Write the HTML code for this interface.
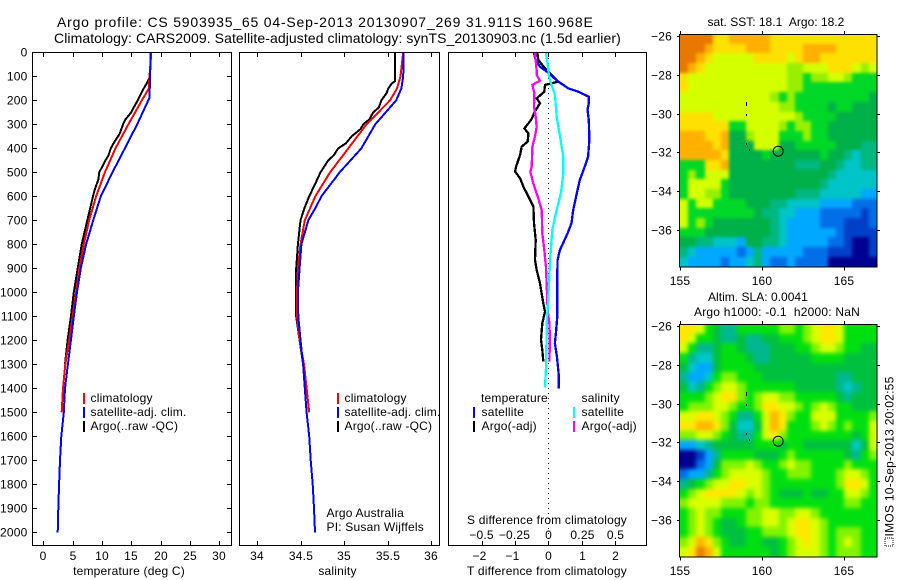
<!DOCTYPE html>
<html>
<head>
<meta charset="utf-8">
<title>Argo profile</title>
<style>
html,body{margin:0;padding:0;background:#fff;width:900px;height:580px;overflow:hidden}
svg{display:block}
text{font-family:"Liberation Sans",sans-serif;font-size:12px;fill:#000;letter-spacing:.2px}
</style>
</head>
<body>
<svg id="chart" xmlns="http://www.w3.org/2000/svg" width="900" height="580" viewBox="0 0 900 580">
  <defs>
    <clipPath id="clip-sst"><rect x="680" y="34" width="197" height="233"/></clipPath>
    <clipPath id="clip-sla"><rect x="680" y="324" width="197" height="233"/></clipPath>
  </defs>
  <text x="57" y="27" textLength="536" lengthAdjust="spacing" style="font-size:14px">Argo profile: CS 5903935_65 04-Sep-2013 20130907_269 31.911S 160.968E</text>
  <text x="54" y="43" textLength="567" lengthAdjust="spacing" style="font-size:14px">Climatology: CARS2009. Satellite-adjusted climatology: synTS_20130903.nc (1.5d earlier)</text>

  <g id="marks"></g>
  <g id="frames">
    <rect x="32.5" y="52.5" width="199" height="493" fill="none" stroke="#000"/>
    <rect x="239.5" y="52.5" width="200" height="493" fill="none" stroke="#000"/>
    <rect x="448.5" y="52.5" width="198" height="493" fill="none" stroke="#000"/>
  </g>
  <g id="ticks"></g>

  <text x="129" y="575" text-anchor="middle">temperature (deg C)</text>
  <text x="337.5" y="575" text-anchor="middle">salinity</text>
  <text x="547" y="575" text-anchor="middle" textLength="160" lengthAdjust="spacing">T difference from climatology</text>
  <text x="547" y="524" text-anchor="middle" textLength="160" lengthAdjust="spacing">S difference from climatology</text>

  <g>
    <rect x="83" y="393" width="2" height="11" fill="#f00"/>
    <rect x="83" y="407" width="2" height="11" fill="#00f"/>
    <rect x="83" y="421" width="2" height="11" fill="#000"/>
    <text x="90.5" y="402">climatology</text>
    <text x="90.5" y="416">satellite-adj. clim.</text>
    <text x="90.5" y="430">Argo(..raw -QC)</text>
  </g>
  <g>
    <rect x="337" y="393" width="2" height="11" fill="#f00"/>
    <rect x="337" y="407" width="2" height="11" fill="#00f"/>
    <rect x="337" y="421" width="2" height="11" fill="#000"/>
    <text x="344.5" y="402">climatology</text>
    <text x="344.5" y="416">satellite-adj. clim.</text>
    <text x="344.5" y="430">Argo(..raw -QC)</text>
    <text x="326.5" y="517">Argo Australia</text>
    <text x="326.5" y="531">PI: Susan Wijffels</text>
  </g>
  <g>
    <text x="481" y="402">temperature</text>
    <text x="581.5" y="402">salinity</text>
    <rect x="473" y="407" width="2" height="11" fill="#00f"/>
    <rect x="473" y="421" width="2" height="11" fill="#000"/>
    <rect x="573" y="407" width="2" height="11" fill="#0ff"/>
    <rect x="573" y="421" width="2" height="11" fill="#f0f"/>
    <text x="481.5" y="416">satellite</text>
    <text x="481.5" y="430">Argo(-adj)</text>
    <text x="581.5" y="416">satellite</text>
    <text x="581.5" y="430">Argo(-adj)</text>
  </g>

  <text x="776" y="26" text-anchor="middle" textLength="137" lengthAdjust="spacing">sat. SST: 18.1&#160;&#160;Argo: 18.2</text>
  <text x="758" y="301" text-anchor="middle" textLength="100" lengthAdjust="spacing">Altim. SLA: 0.0041</text>
  <text x="777" y="316" text-anchor="middle" textLength="166" lengthAdjust="spacing">Argo h1000: -0.1&#160;&#160;h2000: NaN</text>

  <g>
    <rect x="885" y="538" width="8" height="8" fill="none" stroke="#000" stroke-dasharray="1 1"/>
    <text transform="translate(893.5,536.5) rotate(-90)" textLength="160" lengthAdjust="spacing">IMOS 10-Sep-2013 20:02:55</text>
  </g>
</svg>

<script>
// ---------- profile data ----------
const climDepths = [0,100,150,200,300,400,500,600,700,800,900,1000,1100,1200,1300,1400,1500];
const tempClim = [18.4,18.1,18.0,16.8,14.5,12.3,10.5,9.0,7.8,6.9,6.14,5.57,5.0,4.4,3.75,3.36,3.13];
const satDepths = [0,100,190,200,300,400,500,600,700,800,900,1000,1100,1200,1300,1400,1500,1600,1700,1800,1900,2000];
const tempSat = [18.3,18.2,18.1,17.9,16.0,13.9,11.8,9.8,8.5,7.3,6.4,5.75,5.2,4.7,4.2,3.7,3.5,3.07,2.85,2.7,2.56,2.45];
const argoDepths = [0,100,130,160,200,230,250,280,300,340,370,400,430,450,500,530,570,600,650,700,800,900,1000,1100,1200,1300];
const tempArgo = [18.3,18.2,17.6,16.9,16.1,15.4,15.0,14.0,13.6,13.0,12.2,11.5,11.1,10.6,9.55,9.4,8.8,8.47,8.0,7.5,6.54,5.86,5.2,4.7,4.15,3.7];

const salClim = [35.68,35.65,35.61,35.53,35.26,35.05,34.84,34.67,34.55,34.5,34.47,34.46,34.46,34.49,34.54,34.57,34.6];
const salSatDepths = [0,100,150,200,300,400,500,600,650,700,800,900,1000,1100,1200,1300,1400,1500,1600,1700,1800,1900,2000];
const salSat = [35.686,35.68,35.66,35.6,35.36,35.2,34.95,34.74,34.67,34.59,34.51,34.49,34.47,34.475,34.5,34.53,34.55,34.57,34.6,34.617,34.64,34.655,34.667];
const salArgoDepths = [0,120,130,150,170,200,230,250,280,300,320,350,380,400,430,450,500,550,600,650,700,800,900,1000,1100,1200,1300];
const salArgo = [35.586,35.586,35.55,35.51,35.49,35.43,35.4,35.337,35.29,35.222,35.19,35.088,35.02,34.935,34.88,34.82,34.73,34.667,34.6,34.545,34.5,34.47,34.45,34.45,34.45,34.49,34.53];

const diffTSatDepths = [0,32,60,80,122,150,164,185,212,240,282,324,379,435,476,532,574,657,712,754,824,865,921,1032,1101,1171,1212,1268,1337,1400];
const diffTSat = [-.44,-.38,-.25,-.05,.30,.60,.90,1.22,1.22,1.18,1.22,1.23,1.23,1.2,1.1,.95,.88,.75,.70,.58,.35,.28,.27,.27,.27,.23,.20,.26,.31,.32];
const diffTArgoDepths = [0,32,67,122,126,136,164,192,212,247,282,317,338,372,393,428,476,497,525,560,601,643,712,782,865,907,963,1046,1080,1129,1198,1240,1288];
const diffTArgo = [-.33,-.30,-.10,.30,.2,-.1,-.12,-.35,-.25,-.40,-.52,-.72,-.60,-.62,-.80,-.85,-.97,-1.0,-.85,-.75,-.6,-.45,-.43,-.38,-.40,-.35,-.25,-.15,-.10,-.18,-.22,-.18,-.15];
const diffSArgoDepths = [0,74,94,118,136,171,226,268,310,351,393,476,497,546,601,657,754,824,893,969,1074,1129,1198,1288];
const diffSArgo = [-.10,-.088,-.088,-.063,-.12,-.105,-.108,-.095,-.088,-.10,-.12,-.125,-.135,-.113,-.08,-.05,-.045,-.03,-.018,-.012,-.005,.008,.012,.008];
const diffSSatDepths = [0,46,101,129,178,268,351,435,504,588,657,740,851,962,1074,1101,1240,1323,1396];
const diffSSat = [-.018,-.005,.005,.02,.05,.063,.088,.113,.113,.095,.063,.03,.015,.005,-.005,-.01,-.015,-.018,-.025];

// ---------- tick labels ----------
const depthTicks = [0,100,200,300,400,500,600,700,800,900,1000,1100,1200,1300,1400,1500,1600,1700,1800,1900,2000];
const tempTicks = [0,5,10,15,20,25,30];
const salTicks = [34,34.5,35,35.5,36];
const diffTTicks = [-2,-1,0,1,2];
const diffSTicks = [-0.5,-0.25,0,0.25,0.5];
const lonTicks = [155,160,165];
const latTicks = [-26,-28,-30,-32,-34,-36];

// ---------- map data: colour-level index per cell, north to south ----------
const sstGrid = [
[12,12,12,12,10,10,11,11,11,11,11,10,10,10,10,10,10,10,10,10,10,10,10,10],
[12,12,12,11,10,10,10,10,11,11,11,10,10,10,10,11,11,11,11,10,10,10,10,10],
[12,12,11,10,9,9,9,9,9,10,10,10,10,9,10,11,11,10,10,10,10,10,10,10],
[12,11,10,9,9,9,9,9,9,9,9,9,9,8,8,9,9,9,10,10,10,9,8,9],
[10,9,9,9,9,9,9,9,9,9,9,9,9,8,8,7,8,8,9,9,8,7,7,7],
[10,9,9,9,9,9,9,9,9,9,9,9,9,8,8,7,7,7,7,7,7,7,7,7],
[9,9,9,9,9,9,9,9,9,9,9,8,7,8,7,7,7,7,7,7,7,7,7,6],
[9,9,9,9,9,9,9,9,9,9,9,9,8,8,7,7,7,7,6,7,7,6,6,6],
[10,10,10,10,9,9,9,9,9,9,9,9,9,9,8,7,7,7,7,6,6,6,6,6],
[10,10,10,10,10,10,7,7,9,9,9,9,8,7,8,8,7,7,6,6,6,6,6,6],
[11,11,11,10,10,11,6,6,8,9,9,9,7,7,7,8,7,7,6,6,6,6,6,6],
[11,11,11,11,10,11,6,6,6,9,9,9,6,6,7,7,7,7,7,6,6,6,5,5],
[11,11,11,11,11,10,6,6,6,6,7,6,6,6,6,6,6,7,6,6,5,4,5,5],
[7,7,7,10,10,11,6,6,6,6,6,6,6,6,5,5,5,6,6,5,4,4,5,5],
[7,8,7,9,9,9,6,6,6,6,6,6,6,6,6,6,6,6,5,4,4,4,4,4],
[7,9,9,9,9,7,6,6,6,6,6,6,6,6,6,6,6,5,4,4,4,4,4,4],
[7,9,9,8,8,7,6,6,6,6,6,6,6,6,5,5,5,4,4,4,4,4,3,3],
[9,7,9,9,7,7,7,7,6,6,6,5,5,4,4,4,4,3,3,3,3,2,2,2],
[9,7,7,7,7,7,7,7,7,6,5,5,4,4,3,3,3,2,2,2,2,2,1,2],
[9,7,8,7,6,6,6,6,6,6,6,5,4,3,3,3,3,2,2,2,1,1,1,2],
[7,7,7,6,6,6,6,6,6,6,6,5,4,3,3,3,3,3,3,2,1,1,1,1],
[6,6,5,5,4,4,4,3,6,6,5,5,4,3,3,3,3,3,2,2,1,0,0,1],
[5,4,3,3,3,3,3,2,3,5,3,3,3,3,3,2,2,2,1,1,1,0,0,1],
[4,3,3,3,3,2,3,3,4,5,3,2,2,3,2,2,2,2,0,0,0,0,0,0]
];
const slaGrid = [
[10,10,9,7,6,5,5,7,7,7,7,7,8,8,7,8,9,10,10,9,7,7,7,7],
[10,9,7,7,6,5,5,6,5,5,6,6,7,7,7,8,9,10,10,9,7,7,7,7],
[9,7,5,5,6,7,7,6,5,5,5,6,6,6,7,7,8,9,9,8,7,7,6,6],
[7,5,4,4,6,7,7,7,6,5,5,6,6,6,6,6,7,7,7,7,6,6,6,6],
[6,4,3,3,6,7,7,7,7,6,6,6,6,6,6,6,6,6,6,6,6,6,6,6],
[5,3,3,4,7,8,8,7,7,7,6,6,6,6,6,6,6,6,6,5,5,6,6,6],
[6,4,5,7,8,9,9,8,7,7,7,7,7,7,6,6,6,6,6,5,4,5,6,6],
[7,7,7,8,9,10,10,8,7,8,9,9,8,8,7,7,7,7,7,6,5,6,6,6],
[7,8,8,8,9,9,8,7,7,8,10,10,9,9,8,7,8,9,8,7,7,6,6,6],
[9,9,10,10,9,8,7,5,5,7,9,11,10,8,7,7,9,9,9,7,7,7,7,8],
[10,10,11,11,10,8,6,4,4,6,9,11,10,7,7,7,8,9,8,7,8,7,7,9],
[8,8,9,9,8,7,6,5,5,7,9,10,8,7,7,7,7,7,7,7,7,6,7,9],
[3,3,4,5,6,6,6,6,6,7,7,7,6,7,7,6,6,6,6,6,6,4,6,9],
[0,0,1,3,5,7,7,7,7,6,6,6,7,8,7,7,7,7,7,7,6,5,7,8],
[0,0,2,3,6,8,8,8,9,8,7,7,8,9,8,8,7,7,7,7,8,7,7,7],
[2,3,3,5,7,8,9,9,9,9,8,7,7,8,8,8,7,7,7,8,9,9,8,7],
[5,6,7,8,9,9,10,10,9,9,8,7,7,7,7,7,7,7,7,8,10,10,9,7],
[7,8,9,10,10,10,10,9,8,9,8,7,6,6,6,7,6,6,7,7,9,9,8,7],
[8,9,9,9,9,8,8,8,7,8,8,7,7,7,7,7,7,7,7,7,8,8,7,7],
[7,8,9,8,8,7,7,7,8,8,9,9,8,8,9,9,8,7,7,7,7,7,7,7],
[7,8,9,8,7,6,6,7,8,8,9,9,8,9,10,10,9,8,7,7,7,7,7,7],
[7,8,9,8,7,6,6,6,7,7,8,8,8,9,10,10,9,8,7,8,8,8,7,7],
[8,9,11,10,8,7,6,6,7,7,6,6,7,8,9,10,9,8,7,8,9,8,7,7],
[9,10,12,11,9,7,7,7,7,7,7,6,7,8,9,9,9,8,7,8,8,8,7,7]
];
const trackLons = [159,159.03,159,159,159.2];
const trackLats = [-29.4,-29.5,-30,-31.5,-31.8];
const profileLon = 160.968;
const profileLat = -31.94;

// ---------- styling (not data) ----------
const sstColors = ['#000090','#0040c8','#0070e8','#00a8ff','#00c4c8','#00b880','#00b048','#00d828','#98f000','#d4ff00','#ffe000','#ffb000','#e87800'];
const slaColors = ['#000090','#0040c8','#0070e8','#00a8ff','#00c8c8','#00b890','#00c040','#00e010','#80f400','#d8ff00','#ffe800','#ffb800','#e88000'];
const NS = 'http://www.w3.org/2000/svg';
const marks = document.getElementById('marks');
const ticks = document.getElementById('ticks');

// ---------- axis functions ----------
const depthY = d => 52.3 + 0.24 * d;
const tempX = t => 43.3 + 5.867 * t;
const salX = s => 257 + 87 * (s - 34);
const diffTX = t => 548.3 + 33.2 * t;
const diffSX = s => 548.3 + 132.8 * s;
const lonX = l => 680.3 + 16.4 * (l - 155);
const latY = (lat, top) => top + (-26 - lat) * 19.4;

function add(parent, tag, attrs, text) {
  const el = document.createElementNS(NS, tag);
  for (const k in attrs) el.setAttribute(k, attrs[k]);
  if (text !== undefined) el.textContent = text;
  parent.appendChild(el);
  return el;
}
function fmt(v) { return String(v).replace('-', '\u2212'); }

function drawProfile(depths, values, xFn, color, name, width) {
  const pts = values.map((v, i) => xFn(v).toFixed(1) + ',' + depthY(depths[i]).toFixed(1)).join(' ');
  const el = add(marks, 'polyline', {points: pts, fill: 'none', stroke: color, 'stroke-width': width, 'shape-rendering': 'crispEdges'});
  
  
}
function tickLine(x1, y1, x2, y2, name) {
  const el = add(ticks, 'line', {x1: x1, y1: y1, x2: x2, y2: y2, stroke: '#000', 'stroke-width': 1, 'shape-rendering': 'crispEdges'});
  
  
}
function tickText(x, y, anchor, str, name) {
  const el = add(ticks, 'text', {x: x, y: y, 'text-anchor': anchor}, str);
  
  
}

// ---------- maps ----------
function drawMap(grid, colors, top, name, clipId, blurPx) {
  const g = add(marks, 'g', {});
  
  
  const clip = add(g, 'g', {'clip-path': 'url(#' + clipId + ')'});
  const soft = add(clip, 'g', {style: 'filter:blur(' + blurPx + 'px)'});
  const left = 680, w = 197, h = 232.5, bleed = 12;
  const rows = grid.length, cols = grid[0].length;
  grid.forEach((row, r) => row.forEach((lev, c) => {
    const x0 = Math.round(left + c * w / cols) - (c === 0 ? bleed : 0);
    const x1 = Math.round(left + (c + 1) * w / cols) + (c === cols - 1 ? bleed : 0);
    const y0 = Math.round(top + r * h / rows) - (r === 0 ? bleed : 0);
    const y1 = Math.round(top + (r + 1) * h / rows) + (r === rows - 1 ? bleed : 0);
    const cell = add(soft, 'rect', {x: x0, y: y0, width: x1 - x0, height: y1 - y0, fill: colors[lev], 'shape-rendering': 'crispEdges'});
    
    
  }));
  const tickTop = top + 2;
  trackLons.forEach((lon, i) => {
    const p = add(g, 'rect', {x: Math.round(lonX(lon)), y: Math.round(latY(trackLats[i], tickTop)), width: 1, height: 2, fill: '#000'});
    
    
  });
  const circle = add(g, 'circle', {cx: lonX(profileLon), cy: latY(profileLat, tickTop), r: 5, fill: 'none', stroke: '#000', 'stroke-width': 1});
  
  
  const frame = add(g, 'rect', {x: 679.5, y: top + .5, width: 197.5, height: h, fill: 'none', stroke: '#000', 'shape-rendering': 'crispEdges'});
  
  

  const bottom = Math.round(top + h) + .5;
  lonTicks.forEach(l => {
    const x = Math.round(lonX(l)) + .5;
    tickLine(x, top, x, top - 3, 'map-top-tick');
    tickLine(x, bottom, x, bottom + 3, 'map-bottom-tick');
    tickText(x - .5, bottom + 17.5, 'middle', String(l), 'map-longitude-label');
  });
  latTicks.forEach(lat => {
    const y = Math.round(latY(lat, tickTop)) + .5;
    tickLine(680, y, 677, y, 'map-left-tick');
    tickLine(877, y, 880, y, 'map-right-tick');
    tickText(672, y + 4, 'end', fmt(lat), 'map-latitude-label');
  });
}
drawMap(sstGrid, sstColors, 34, 'sst-map', 'clip-sst', 1.6);
drawMap(slaGrid, slaColors, 324, 'sla-map', 'clip-sla', 2);

// ---------- profile lines ----------
drawProfile(argoDepths, tempArgo, tempX, '#000', 'temperature-argo-line', 2);
drawProfile(climDepths, tempClim, tempX, '#f00', 'temperature-climatology-line', 2);
drawProfile(satDepths, tempSat, tempX, '#00f', 'temperature-satellite-line', 2);

drawProfile(salArgoDepths, salArgo, salX, '#000', 'salinity-argo-line', 2);
drawProfile(climDepths, salClim, salX, '#f00', 'salinity-climatology-line', 2);
drawProfile(salSatDepths, salSat, salX, '#00f', 'salinity-satellite-line', 2);

const zeroLine = add(marks, 'line', {x1: 548.5, y1: 53, x2: 548.5, y2: 545, stroke: '#000', 'stroke-width': 1, 'stroke-dasharray': '1 4'});



drawProfile(diffTArgoDepths, diffTArgo, diffTX, '#000', 'difference-t-argo-line', 2.3);
drawProfile(diffTSatDepths, diffTSat, diffTX, '#00f', 'difference-t-satellite-line', 2.3);
drawProfile(diffSArgoDepths, diffSArgo, diffSX, '#f0f', 'difference-s-argo-line', 2.3);
drawProfile(diffSSatDepths, diffSSat, diffSX, '#0ff', 'difference-s-satellite-line', 2.3);

// ---------- profile axes ----------
depthTicks.forEach(d => {
  const y = Math.round(depthY(d)) + .5;
  tickLine(33, y, 37, y, 'depth-tick-left');
  tickLine(231, y, 227, y, 'depth-tick-right');
  tickText(27.5, y + 4, 'end', String(d), 'depth-tick-label');
});
tempTicks.forEach(t => {
  const x = Math.round(tempX(t)) + .5;
  tickLine(x, 53, x, 57, 'temperature-tick-top');
  tickLine(x, 545, x, 541, 'temperature-tick-bottom');
  tickText(x - .5, 560, 'middle', String(t), 'temperature-tick-label');
});
salTicks.forEach(s => {
  const x = Math.round(salX(s)) + .5;
  tickLine(x, 53, x, 57, 'salinity-tick-top');
  tickLine(x, 545, x, 541, 'salinity-tick-bottom');
  tickText(x - .5, 560, 'middle', String(s), 'salinity-tick-label');
});
diffTTicks.forEach(t => {
  const x = Math.round(diffTX(t)) + .5;
  tickLine(x, 53, x, 57, 'difference-tick-top');
  tickLine(x, 545, x, 541, 'difference-tick-bottom');
  tickText(x - (t < 0 ? 3 : 0), 560, 'middle', fmt(t), 't-difference-tick-label');
});
diffSTicks.forEach(s => {
  const x = Math.round(diffSX(s)) + .5;
  tickText(x - (s < 0 ? 1 : 0), 539, 'middle', fmt(s), 's-difference-tick-label');
});
</script>
</body>
</html>
